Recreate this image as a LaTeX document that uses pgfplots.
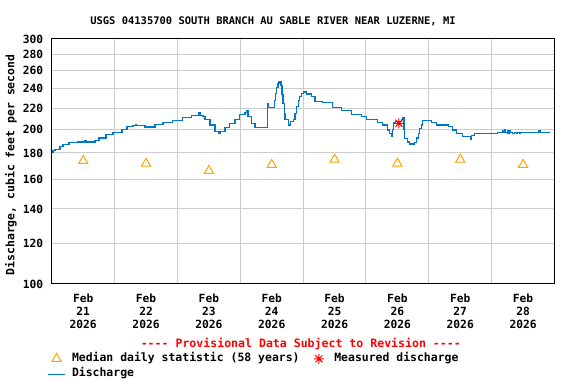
\documentclass[border=0pt]{standalone}
\usepackage{pgfplots}
\pgfplotsset{compat=1.18}
\usepackage{fontspec}
\setmainfont{DejaVu Sans Mono}[Ligatures=TeXOff]
\definecolor{qblue}{RGB}{0,119,204}
\definecolor{qorange}{RGB}{255,165,0}
\definecolor{qgrid}{RGB}{204,204,204}
\pgfdeclareplotmark{burst}{%
  \pgfpathmoveto{\pgfqpoint{-\pgfplotmarksize}{0pt}}\pgfpathlineto{\pgfqpoint{\pgfplotmarksize}{0pt}}%
  \pgfpathmoveto{\pgfqpoint{0pt}{-\pgfplotmarksize}}\pgfpathlineto{\pgfqpoint{0pt}{\pgfplotmarksize}}%
  \pgfpathmoveto{\pgfqpoint{-.707\pgfplotmarksize}{-.707\pgfplotmarksize}}\pgfpathlineto{\pgfqpoint{.707\pgfplotmarksize}{.707\pgfplotmarksize}}%
  \pgfpathmoveto{\pgfqpoint{-.707\pgfplotmarksize}{.707\pgfplotmarksize}}\pgfpathlineto{\pgfqpoint{.707\pgfplotmarksize}{-.707\pgfplotmarksize}}%
  \pgfusepathqstroke}
\pgfplotsset{marklegend/.style={legend image code/.code={\path (0cm,0cm) (0.6cm,0cm); \draw[mark repeat=2,mark phase=2,##1] plot coordinates {(0cm,0cm) (0.3cm,0cm) (0.6cm,0cm)};}}}
\begin{document}
\begin{tikzpicture}
\path[use as bounding box] (-51.8bp,-100bp) rectangle (524.2bp,284bp);
\begin{axis}[
  at={(0,0)}, anchor=south west,
  scale only axis, width=502.7bp, height=245bp,
  xmin=0, xmax=8, ymin=100, ymax=300, ymode=log,
  xtick={0.5,1.5,2.5,3.5,4.5,5.5,6.5,7.5},
  xticklabels={{Feb\\21\\2026},{Feb\\22\\2026},{Feb\\23\\2026},{Feb\\24\\2026},{Feb\\25\\2026},{Feb\\26\\2026},{Feb\\27\\2026},{Feb\\28\\2026}},
  minor xtick={1,2,3,4,5,6,7},
  xminorgrids=true, xmajorgrids=false, ymajorgrids=true,
  ytick={100,120,140,160,180,200,220,240,260,280,300},
  yticklabels={100,120,140,160,180,200,220,240,260,280,300},
  yminorticks=false,
  major tick length=0pt, minor tick length=0pt,
  grid style={qgrid, line width=1bp}, minor grid style={qgrid, line width=1bp},
  axis line style={line width=1bp, black},
  /pgf/number format/assume math mode=true,
  tick label style={font=\bfseries\fontsize{11.3}{13.2}\selectfont},
  xticklabel style={align=center, anchor=north, inner sep=0pt, yshift=-9.3bp},
  yticklabel style={anchor=east, inner sep=0pt, xshift=-8.5bp},
  title={USGS 04135700 SOUTH BRANCH AU SABLE RIVER NEAR LUZERNE, MI},
  title style={at={(axis description cs:0.440,1.076)}, anchor=center, yshift=-7bp, inner sep=0pt, font=\bfseries\fontsize{10.5}{12}\selectfont},
  ylabel={Discharge, cubic feet per second},
  ylabel style={at={(axis description cs:-0.0812,0.486)}, anchor=center, inner sep=0pt, font=\bfseries\fontsize{11.5}{13}\selectfont},
  legend columns=2, legend cell align=left,
  legend style={at={(axis description cs:-0.00895,-0.2828)}, anchor=north west, draw=none, fill=none, inner sep=0pt,
    font=\bfseries\fontsize{11.5}{13}\selectfont,
    nodes={inner sep=0pt, text height=8bp, text depth=2.5bp},
    /tikz/every odd column/.append style={column sep=6.4bp},
    /tikz/every even column/.append style={column sep=10.3bp},
    row sep=4.9bp},
]
\addplot[const plot, qblue, line width=1.1bp, forget plot] coordinates {
(0.000,180.5) (0.019,182) (0.051,183) (0.130,185) (0.178,187) (0.274,188.5)
(0.417,189) (0.528,190) (0.545,189) (0.687,190.5) (0.751,192.5) (0.862,195.8)
(0.974,197.5) (1.117,200) (1.196,202.5) (1.292,203.3) (1.330,204) (1.345,203.3) (1.483,202.2) (1.642,204.5)
(1.769,206.3) (1.928,208) (2.087,211) (2.230,213.3) (2.342,216) (2.358,213)
(2.406,212) (2.438,208.7) (2.517,204) (2.597,198) (2.660,196) (2.676,198.5)
(2.756,202) (2.835,205.5) (2.915,209.5) (2.994,214) (3.074,216) (3.106,218)
(3.122,212) (3.185,205.5) (3.233,202) (3.432,225) (3.450,221) (3.519,221)
(3.551,228) (3.567,235) (3.583,241) (3.599,246) (3.615,248) (3.647,244)
(3.663,234) (3.680,225) (3.700,215) (3.711,209) (3.774,204) (3.800,207)
(3.840,209) (3.870,215) (3.901,222) (3.930,228) (3.949,232) (3.975,235)
(4.000,236.5) (4.060,234.4) (4.140,232) (4.188,227) (4.315,225.5) (4.474,220.5)
(4.617,218) (4.776,214) (4.935,212) (5.015,208.7) (5.190,206.3) (5.269,204)
(5.349,199.5) (5.381,196) (5.413,193.7) (5.429,200) (5.445,206.3) (5.476,207)
(5.572,209) (5.588,211) (5.605,200) (5.620,192) (5.667,189) (5.699,187.4)
(5.779,188.5) (5.811,192.5) (5.830,196) (5.858,201) (5.880,204) (5.906,208)
(6.049,206.7) (6.129,204) (6.320,202.5) (6.383,199.5) (6.447,196) (6.542,193.7)
(6.660,190.8) (6.675,193.7) (6.685,195) (6.733,196.6) (6.845,196) (7.099,197.5)
(7.179,199) (7.195,197.5) (7.210,199.5) (7.225,197.5) (7.245,199) (7.260,196.5)
(7.280,199) (7.300,197.5) (7.330,196.5) (7.360,197.5) (7.390,196.5) (7.410,197.5)
(7.440,196.5) (7.460,197.5) (7.750,199) (7.770,197.5) (7.927,197.5)
};
\addplot[only marks, mark=triangle, mark size=5.3bp, qorange, line width=1bp, marklegend]
  coordinates {(0.5,173.8) (1.5,171.6) (2.5,166.1) (3.5,170.7) (4.5,174.7) (5.5,171.6) (6.5,174.7) (7.5,170.8)};
\addlegendentry{Median daily statistic (58 years)}
\addplot[only marks, mark=burst, mark size=5bp, red, line width=1bp, marklegend]
  coordinates {(5.524,205.6)};
\addlegendentry{Measured discharge}
\addlegendimage{qblue, line width=1.1bp}
\addlegendentry{Discharge}
\end{axis}
\node[text=red, inner sep=0pt, font=\bfseries\fontsize{11.6}{13}\selectfont] at (249bp,-60.2bp) {---- Provisional Data Subject to Revision ----};
\end{tikzpicture}
\end{document}
